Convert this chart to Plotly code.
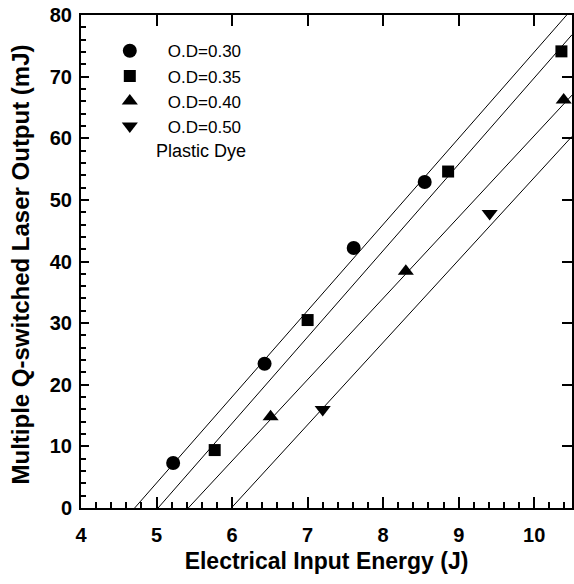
import plotly.graph_objects as go

# Measured data (Electrical input energy J, laser output mJ)
od030_x = [5.22, 6.43, 7.61, 8.55]
od030_y = [7.3, 23.4, 42.2, 52.9]
od035_x = [5.77, 7.00, 8.86, 10.36]
od035_y = [9.4, 30.5, 54.6, 74.1]
od040_x = [6.51, 8.30, 10.39]
od040_y = [14.8, 38.4, 66.2]
od050_x = [7.20, 9.41]
od050_y = [16.0, 47.8]

# Fit-line endpoints
fit030_x = [4.71, 10.43]
fit030_y = [0.0, 80.0]
fit035_x = [5.02, 10.5]
fit035_y = [0.0, 76.8]
fit040_x = [5.42, 10.5]
fit040_y = [0.0, 67.0]
fit050_x = [5.99, 10.5]
fit050_y = [0.0, 60.3]

series_names = ["O.D=0.30", "O.D=0.35", "O.D=0.40", "O.D=0.50"]
symbols = ["circle", "square", "triangle-up", "triangle-down"]
sizes = [14, 12, 14, 14]

x_ticks = [4, 5, 6, 7, 8, 9, 10]
y_ticks = [0, 10, 20, 30, 40, 50, 60, 70, 80]

FONT = "Liberation Sans, Arial, sans-serif"

fig = go.Figure()

for fx, fy in [(fit030_x, fit030_y), (fit035_x, fit035_y),
               (fit040_x, fit040_y), (fit050_x, fit050_y)]:
    fig.add_trace(go.Scatter(x=fx, y=fy, mode="lines",
                             line=dict(color="black", width=1),
                             showlegend=False, hoverinfo="skip"))

for name, xs, ys, sym, sz in zip(series_names,
                                 [od030_x, od035_x, od040_x, od050_x],
                                 [od030_y, od035_y, od040_y, od050_y],
                                 symbols, sizes):
    fig.add_trace(go.Scatter(x=xs, y=ys, mode="markers", name=name,
                             marker=dict(symbol=sym, size=sz, color="black"),
                             cliponaxis=False))

# dummy trace for top/right axes
fig.add_trace(go.Scatter(x=[4], y=[0], xaxis="x2", yaxis="y2", mode="markers",
                         marker=dict(opacity=0), showlegend=False, hoverinfo="skip"))

fig.update_layout(
    width=574, height=584,
    margin=dict(l=81, r=2, t=15, b=76),
    paper_bgcolor="white", plot_bgcolor="white",
    font=dict(family=FONT, color="black"),
    showlegend=True,
    legend=dict(x=0.022, y=0.963, xanchor="left", yanchor="top",
                bgcolor="rgba(0,0,0,0)", font=dict(size=17),
                itemwidth=66, tracegroupgap=0),
    xaxis=dict(range=[4, 10.5], tickvals=x_ticks, ticks="inside", ticklen=11,
               tickwidth=2, tickcolor="black", showline=True, linewidth=2,
               linecolor="black", showgrid=False, zeroline=False,
               tickfont=dict(size=20, family=FONT, weight="bold"),
               ticklabelstandoff=8,
               minor=dict(dtick=0.2, ticks="inside", ticklen=6, tickwidth=1.5,
                          tickcolor="black", showgrid=False),
               title=dict(text="<b>Electrical Input Energy (J)</b>",
                          font=dict(size=23), standoff=8)),
    yaxis=dict(range=[0, 80], tickvals=y_ticks, ticks="inside", ticklen=8,
               tickwidth=2, tickcolor="black", showline=True, linewidth=2,
               linecolor="black", showgrid=False, zeroline=False,
               tickfont=dict(size=20, family=FONT, weight="bold"),
               ticklabelstandoff=3,
               minor=dict(dtick=2, ticks="inside", ticklen=5, tickwidth=1.5,
                          tickcolor="black", showgrid=False)),
    xaxis2=dict(range=[4, 10.5], overlaying="x", side="top", anchor="y",
                tickvals=x_ticks, ticks="inside", ticklen=11, tickwidth=2,
                tickcolor="black", showline=True, linewidth=2, linecolor="black",
                showticklabels=False, showgrid=False, zeroline=False),
    yaxis2=dict(range=[0, 80], overlaying="y", side="right", anchor="x",
                tickvals=y_ticks, ticks="inside", ticklen=10, tickwidth=2,
                tickcolor="black", showline=True, linewidth=2, linecolor="black",
                showticklabels=False, showgrid=False, zeroline=False),
)

# y-axis title placed as rotated text
fig.add_annotation(text="<b>Multiple Q-switched Laser Output (mJ)</b>",
                   x=0, y=0.5, xref="paper", yref="paper", textangle=-90,
                   xanchor="center", yanchor="middle", xshift=-61, yshift=-3,
                   showarrow=False, font=dict(size=24, color="black"))

fig.add_annotation(text="Plastic Dye", x=0.245, y=0.725, xref="paper", yref="paper",
                   xanchor="center", yanchor="middle", showarrow=False,
                   font=dict(size=18, color="black"))

fig.write_html("out.html", config={"displayModeBar": False},
               post_script="document.body.style.margin='0';")
